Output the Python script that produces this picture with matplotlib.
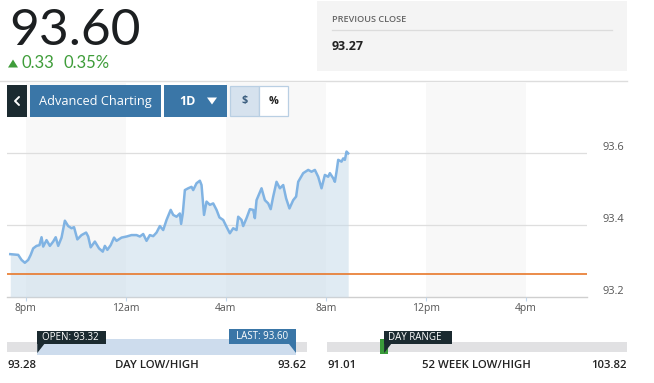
import matplotlib
matplotlib.use("Agg")
import matplotlib.pyplot as plt
from matplotlib.patches import Rectangle, Polygon
import matplotlib.transforms as mtransforms

# ---------------- data ----------------
last_price = "93.60"
change_abs = "0.33"
change_pct = "0.35%"
prev_close_label = "93.27"
prev_close_level = 93.265

# minutes after 8pm
times = [-37, -18, -10, -2, 6, 12, 18, 26, 33, 38,
         42, 50, 58, 66, 72, 78, 86, 94, 102, 110,
         116, 124, 134, 145, 150, 156, 166, 176, 185, 190,
         196, 204, 212, 218, 230, 242, 254, 266, 274, 282,
         290, 298, 306, 314, 322, 330, 338, 348, 354, 362,
         370, 373, 377, 382, 390, 398, 402, 410, 418, 422,
         428, 434, 442, 450, 458, 465, 474, 482, 490, 498,
         506, 510, 518, 522, 530, 538, 546, 550, 554, 566,
         574, 582, 588, 594, 602, 610, 618, 625, 633, 642,
         649, 654, 666, 678, 686, 694, 702, 710, 718, 726,
         730, 738, 742, 746, 750, 758, 762, 766, 770, 774]
prices = [93.319, 93.317, 93.303, 93.295, 93.303, 93.317, 93.335, 93.342, 93.344, 93.366,
          93.340, 93.358, 93.342, 93.354, 93.366, 93.342, 93.365, 93.412, 93.397, 93.391,
          93.394, 93.360, 93.372, 93.379, 93.368, 93.338, 93.354, 93.335, 93.326, 93.342,
          93.331, 93.344, 93.365, 93.356, 93.365, 93.368, 93.372, 93.372, 93.368, 93.375,
          93.356, 93.372, 93.369, 93.379, 93.397, 93.386, 93.414, 93.442, 93.428, 93.423,
          93.432, 93.403, 93.432, 93.497, 93.502, 93.506, 93.497, 93.516, 93.523, 93.511,
          93.428, 93.465, 93.456, 93.460, 93.442, 93.421, 93.414, 93.395, 93.377, 93.391,
          93.386, 93.423, 93.414, 93.397, 93.419, 93.444, 93.442, 93.419, 93.469, 93.502,
          93.469, 93.460, 93.444, 93.479, 93.520, 93.502, 93.511, 93.474, 93.446, 93.469,
          93.479, 93.520, 93.544, 93.553, 93.548, 93.553, 93.534, 93.502, 93.539, 93.534,
          93.544, 93.530, 93.520, 93.548, 93.581, 93.576, 93.585, 93.581, 93.604, 93.599]

xtick_pos = [0, 240, 480, 720, 960, 1200]
xtick_labels = ["8pm", "12am", "4am", "8am", "12pm", "4pm"]
ytick_vals = [93.2, 93.4, 93.6]
ytick_labels = ["93.2", "93.4", "93.6"]
shade_bands = [(0, 240), (480, 720), (960, 1200)]

day_low, day_high = 93.28, 93.62
open_price, last_val = 93.32, 93.60
wk_low, wk_high = 91.01, 103.82

# ---------------- figure ----------------
W, H = 654, 383
fig = plt.figure(figsize=(W / 100, H / 100), dpi=100)
FONT = ["Open Sans", "DejaVu Sans"]
NUMFONT = ["Lato", "DejaVu Sans"]


def fx(px):
    return px / W


def fy(py):
    return 1 - py / H


# chart axes (pixel box 7..587 x 83..297)
ax_l, ax_r, ax_t, ax_b = 7, 587, 83, 297
ax = fig.add_axes([fx(ax_l), fy(ax_b), fx(ax_r - ax_l), (ax_b - ax_t) / H])
ppu = 360.0  # pixels per price unit
ax.set_ylim(93.2, 93.2 + (ax_b - ax_t) / ppu)
mpp = 2.4  # minutes per pixel
ax.set_xlim((ax_l - 25.7) * mpp, (ax_r - 25.7) * mpp)
for s in ax.spines.values():
    s.set_visible(False)
ax.set_yticks([])

for a, b in shade_bands:
    ax.axvspan(a, b, color="#f8f8f8", zorder=0, lw=0)
for v in ytick_vals[1:]:
    ax.axhline(v, color="#dedede", lw=0.9, zorder=1)
ax.axhline(ytick_vals[0], color="#cfcfcf", lw=1.0, zorder=1, clip_on=False)

ax.fill_between(times, prices, 93.2, color="#c8dbea", alpha=0.55, lw=0, zorder=2)
ax.plot(times, prices, color="#80b3e3", lw=1.8, zorder=3, solid_joinstyle="round")
ax.axhline(prev_close_level, color="#e8782a", lw=1.2, zorder=4)

ax.set_xticks(xtick_pos)
ax.set_xticklabels(xtick_labels, fontfamily=FONT)
ax.tick_params(axis="x", length=3, width=0.8, color="#c2d6ea", labelcolor="#555555",
               labelsize=7.5, pad=1.5)

ytrans = mtransforms.offset_copy(
    mtransforms.blended_transform_factory(ax.transAxes, ax.transData), fig=fig, y=6, units="dots")
for v, lab in zip(ytick_vals, ytick_labels):
    ax.text((602 - ax_l) / (ax_r - ax_l), v, lab, transform=ytrans, ha="left", va="center",
            fontsize=7.9, color="#555555", family=FONT)

# ---------------- UI overlay (pixel coords) ----------------
ui = fig.add_axes([0, 0, 1, 1], zorder=5)
ui.set_xlim(0, W)
ui.set_ylim(H, 0)
ui.axis("off")
ui.patch.set_alpha(0)

# big price
ui.text(9, 45, last_price, fontsize=37, color="#1c1f21", family=NUMFONT, va="baseline", ha="left")
ui.add_patch(Polygon([(8, 67.5), (18, 67.5), (13, 59.5)], closed=True, color="#3f9d3a", lw=0))
ui.text(22, 68.5, change_abs, fontsize=12, color="#3f9d3a", family=NUMFONT, va="baseline")
ui.text(64, 68.5, change_pct, fontsize=12, color="#3f9d3a", family=NUMFONT, va="baseline")

# previous close box
ui.add_patch(Rectangle((317, 1), 310, 69.5, color="#f4f4f4", lw=0))
ui.text(332, 20, "PREVIOUS CLOSE", fontsize=6.6, color="#666666", family=FONT,
        fontweight="semibold", va="center")
ui.plot([332, 612], [30.3, 30.3], color="#dcdcdc", lw=0.9)
ui.text(332, 47, prev_close_label, fontsize=9, color="#222222", family=FONT,
        fontweight="bold", va="center")

# separator
ui.plot([0, 627], [81, 81], color="#dddddd", lw=1.0)

# toolbar
ui.add_patch(Rectangle((7, 85), 20, 32, color="#1b2a30", lw=0))
ui.plot([19, 15, 19], [97, 101, 105], color="white", lw=1.4, solid_capstyle="round")
ui.add_patch(Rectangle((30, 85), 131, 32, color="#3a76a7", lw=0))
ui.text(95.5, 101, "Advanced Charting", fontsize=9.2, color="white", family=FONT,
        ha="center", va="center")
ui.add_patch(Rectangle((164, 85), 63, 32, color="#3a76a7", lw=0))
ui.text(187, 101.5, "1D", fontsize=9, color="white", family=FONT, fontweight="bold",
        ha="center", va="center")
ui.add_patch(Polygon([(207, 97.5), (217, 97.5), (212, 104.5)], closed=True, color="white", lw=0))
ui.add_patch(Rectangle((230, 86), 29, 30, facecolor="#d6e2ee", edgecolor="#b9cfe3", lw=0.9))
ui.add_patch(Rectangle((259, 86), 29, 30, facecolor="white", edgecolor="#b9cfe3", lw=0.9))
ui.text(244.5, 101, "$", fontsize=7.8, color="#3d5f80", family=FONT, fontweight="bold",
        ha="center", va="center")
ui.text(273.5, 101, "%", fontsize=7.8, color="#222222", family=FONT, fontweight="bold",
        ha="center", va="center")

# ---- day low / high bar ----
d_x0, d_x1 = 7, 307


def dpx(v):
    return d_x0 + (v - day_low) / (day_high - day_low) * (d_x1 - d_x0)


ui.add_patch(Rectangle((d_x0, 342), d_x1 - d_x0, 10, color="#e1e1e3", lw=0))
xo, xl = dpx(open_price) - 5, dpx(last_val) + 6.5
ui.add_patch(Rectangle((xo, 339), xl - xo, 16, color="#cddced", lw=0))
ui.add_patch(Rectangle((xo, 331), 69, 13, color="#1b2a30", lw=0))
ui.add_patch(Polygon([(xo, 344), (xo + 7, 344), (xo, 353)], closed=True, color="#1b2a30", lw=0))
ui.text(xo + 5, 337.8, f"OPEN: {open_price:.2f}", fontsize=7, color="white", family=FONT,
        va="center", ha="left")
ui.add_patch(Rectangle((xl - 67, 329), 67, 15, color="#3a76a7", lw=0))
ui.add_patch(Polygon([(xl - 7, 344), (xl, 344), (xl, 353)], closed=True, color="#3a76a7", lw=0))
ui.text(xl - 33.5, 336.5, f"LAST: {last_val:.2f}", fontsize=7, color="white", family=FONT,
        va="center", ha="center")

ui.text(d_x0, 365, f"{day_low:.2f}", fontsize=8.2, color="#222222", family=FONT,
        va="center", ha="left", fontweight="semibold")
ui.text((d_x0 + d_x1) / 2, 365, "DAY LOW/HIGH", fontsize=8.2, color="#222222", family=FONT,
        va="center", ha="center", fontweight="semibold")
ui.text(d_x1, 365, f"{day_high:.2f}", fontsize=8.2, color="#222222", family=FONT,
        va="center", ha="right", fontweight="semibold")

# ---- 52 week bar ----
w_x0, w_x1 = 327, 627


def wpx(v):
    return w_x0 + (v - wk_low) / (wk_high - wk_low) * (w_x1 - w_x0)


ui.add_patch(Rectangle((w_x0, 342), w_x1 - w_x0, 10, color="#e1e1e3", lw=0))
g0, g1 = wpx(day_low), wpx(day_high)
ui.add_patch(Rectangle((g0, 339), max(g1 - g0, 6), 15, color="#3a9a3a", lw=0))
bx = (g0 + g1) / 2
ui.add_patch(Rectangle((bx, 331), 68, 13, color="#1b2a30", lw=0))
ui.add_patch(Polygon([(bx, 344), (bx + 7, 344), (bx, 353)], closed=True, color="#1b2a30", lw=0))
ui.text(bx + 4, 337.8, "DAY RANGE", fontsize=7, color="white", family=FONT,
        va="center", ha="left")
ui.text(w_x0, 365, f"{wk_low:.2f}", fontsize=8.2, color="#222222", family=FONT,
        va="center", ha="left", fontweight="semibold")
ui.text(476, 365, "52 WEEK LOW/HIGH", fontsize=8.2, color="#222222", family=FONT,
        va="center", ha="center", fontweight="semibold")
ui.text(w_x1, 365, f"{wk_high:.2f}", fontsize=8.2, color="#222222", family=FONT,
        va="center", ha="right", fontweight="semibold")

fig.savefig("out.png", dpi=100)
